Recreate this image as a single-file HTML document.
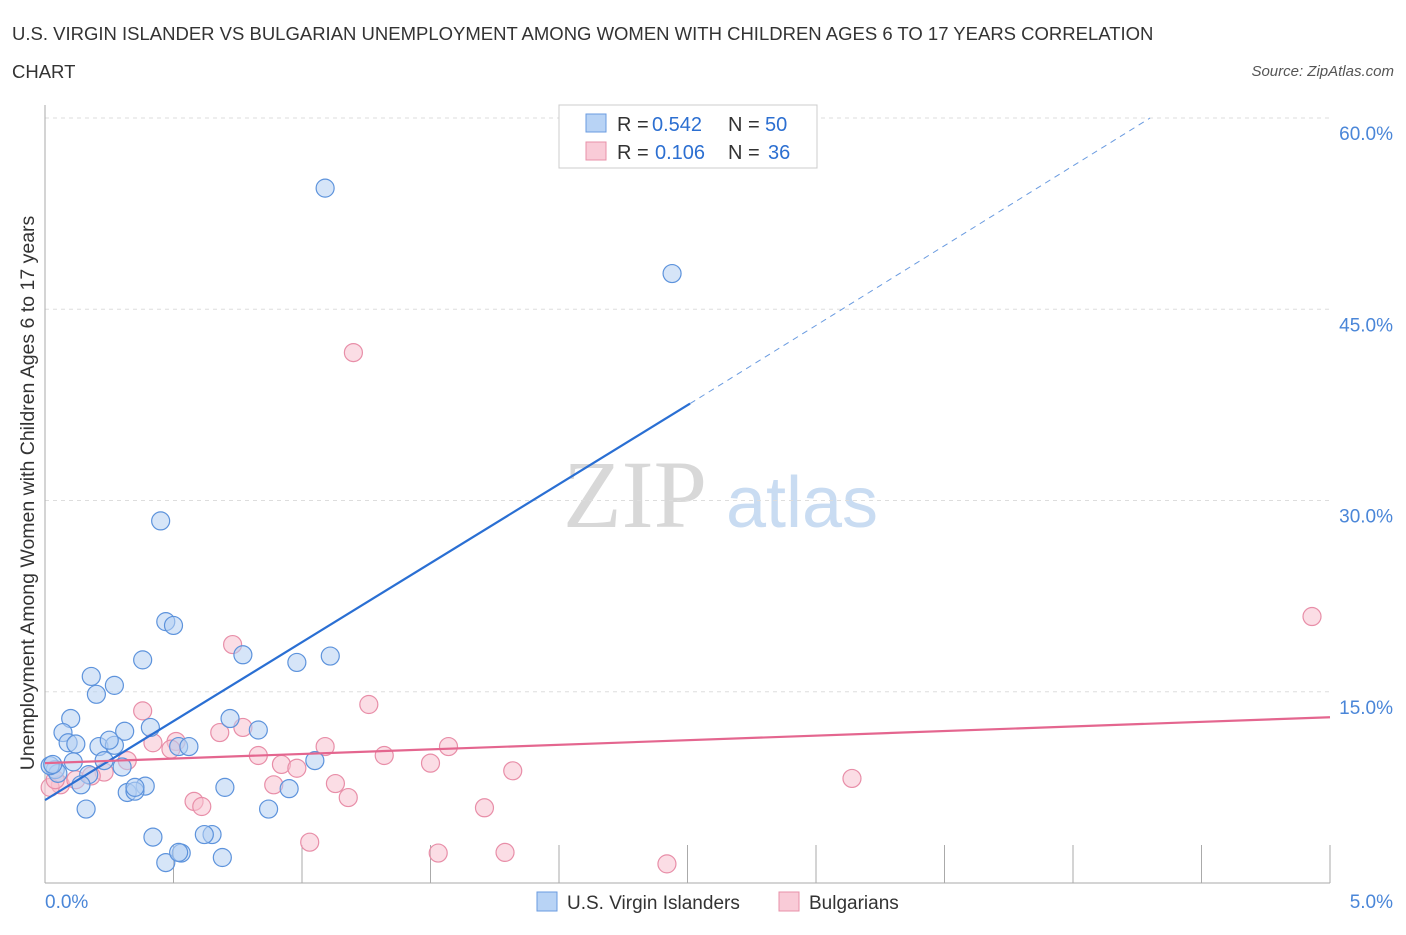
<!DOCTYPE html>
<html><head><meta charset="utf-8"><style>
body{margin:0;background:#fff;font-family:"Liberation Sans",sans-serif}
</style></head><body>
<svg width="1406" height="930" xmlns="http://www.w3.org/2000/svg" style="font-family:'Liberation Sans',sans-serif">
<text x="12" y="40" font-size="18.5" fill="#333">U.S. VIRGIN ISLANDER VS BULGARIAN UNEMPLOYMENT AMONG WOMEN WITH CHILDREN AGES 6 TO 17 YEARS CORRELATION</text>
<text x="12" y="78" font-size="18.5" fill="#333">CHART</text>
<text x="1394" y="76" font-size="15" fill="#555" font-style="italic" text-anchor="end">Source: ZipAtlas.com</text>
<g>
<text x="635" y="527" font-size="96" font-family="'Liberation Serif',serif" fill="#d8d8d8" text-anchor="middle">ZIP</text>
<text x="802" y="527" font-size="72" fill="#c9dcf2" text-anchor="middle">atlas</text>
</g>
<g id="grid"></g>
<g id="axes"></g>
<g id="marks"></g>
<g>
<rect x="559" y="105" width="258" height="63" fill="#fff" stroke="#ccc"/>
<rect x="586" y="114" width="20" height="18" fill="#b8d3f5" stroke="#6a9be0"/>
<text y="131" font-size="20" fill="#333"><tspan x="617">R =</tspan><tspan x="652" fill="#2c6fd1">0.542</tspan><tspan x="728">N =</tspan><tspan x="765" fill="#2c6fd1">50</tspan></text>
<rect x="586" y="142" width="20" height="18" fill="#f9cbd7" stroke="#e890a8"/>
<text y="159" font-size="20" fill="#333"><tspan x="617">R =</tspan><tspan x="655" fill="#2c6fd1">0.106</tspan><tspan x="728">N =</tspan><tspan x="768" fill="#2c6fd1">36</tspan></text>
</g>
<g>
<rect x="537" y="892" width="20" height="19" fill="#b8d3f5" stroke="#6a9be0"/>
<text x="567" y="909" font-size="19" fill="#333">U.S. Virgin Islanders</text>
<rect x="779" y="892" width="20" height="19" fill="#f9cbd7" stroke="#e890a8"/>
<text x="809" y="909" font-size="19" fill="#333">Bulgarians</text>
</g>
<text transform="translate(34,493) rotate(-90)" font-size="19.5" fill="#333" text-anchor="middle">Unemployment Among Women with Children Ages 6 to 17 years</text>
</svg>
<script>
const blueX=[1.09,2.44,0.45,0.47,0.50,0.38,0.77,0.98,1.11,0.18,0.27,0.20,0.10,0.07,0.31,0.41,0.09,0.12,0.21,0.27,0.25,0.52,0.56,0.72,0.83,0.23,0.30,0.11,0.04,0.05,0.02,0.17,0.14,0.39,0.70,0.32,0.35,0.35,0.95,1.05,0.16,0.42,0.65,0.62,0.87,0.53,0.47,0.69,0.52,0.03];
const blueY=[54.5,47.8,28.4,20.5,20.2,17.5,17.9,17.3,17.8,16.2,15.5,14.8,12.9,11.8,11.9,12.2,11.0,10.9,10.7,10.8,11.2,10.7,10.7,12.9,12.0,9.6,9.1,9.5,8.9,8.6,9.2,8.5,7.7,7.6,7.5,7.1,7.2,7.5,7.4,9.6,5.8,3.6,3.8,3.8,5.8,2.35,1.6,2.0,2.4,9.3];
const pinkX=[1.20,4.93,0.73,1.26,0.38,0.68,0.77,0.51,0.42,0.49,0.83,1.32,1.09,1.57,0.92,0.98,0.32,0.23,1.50,1.82,3.14,0.89,1.13,1.18,0.58,0.61,1.71,1.03,1.53,1.79,2.42,0.06,0.02,0.12,0.18,0.04];
const pinkY=[41.6,20.9,18.7,14.0,13.5,11.8,12.2,11.1,11.0,10.5,10.0,10.0,10.7,10.7,9.3,9.0,9.6,8.7,9.4,8.8,8.2,7.7,7.8,6.7,6.4,6.0,5.9,3.2,2.35,2.4,1.5,7.7,7.5,8.1,8.4,8.1];
const blueLine=[[0,6.5],[2.51,37.6],[4.30,60]];
const pinkLine=[[0,9.4],[5,13.0]];
const yTicks=[15,30,45,60];
const yTickLabels=["15.0%","30.0%","45.0%","60.0%"];
const xTicks=[0,0.5,1,1.5,2,2.5,3,3.5,4,4.5,5];
const NS="http://www.w3.org/2000/svg";
const sx=v=>45+v*257, sy=v=>883-v*12.75;
function mk(p,t,a){const e=document.createElementNS(NS,t);for(const k in a)e.setAttribute(k,a[k]);p.appendChild(e);return e;}
const grid=document.getElementById('grid'),axes=document.getElementById('axes'),marks=document.getElementById('marks');
yTicks.forEach((v,i)=>{
 const l=mk(grid,'line',{x1:45,x2:1330,y1:sy(v),y2:sy(v),stroke:'#ddd','stroke-dasharray':'4,4'});
 
 
 const t=mk(grid,'text',{x:1393,y:sy(v)+22,'font-size':19,fill:'#4a86d8','text-anchor':'end'});
 t.textContent=yTickLabels[i];
 
 
});
const ax=mk(axes,'line',{x1:45,x2:45,y1:105,y2:883,stroke:'#aaa'});


const bx=mk(axes,'line',{x1:45,x2:1330,y1:883,y2:883,stroke:'#aaa'});


xTicks.forEach(v=>{
 const t=mk(axes,'line',{x1:sx(v),x2:sx(v),y1:845,y2:883,stroke:'#aaa'});
 
 
});
[[0,'0.0%','start',45],[5,'5.0%','end',1393]].forEach(d=>{
 const t=mk(axes,'text',{x:d[3],y:908,'font-size':19,fill:'#4a86d8','text-anchor':d[2]});
 t.textContent=d[1];
 
 
});
function dots(X,Y,fill,stroke,name){X.forEach((x,i)=>{
 const c=mk(marks,'circle',{cx:sx(x),cy:sy(Y[i]),r:9,fill:fill,'fill-opacity':0.55,stroke:stroke,'stroke-width':1.2});
 
 
});}
dots(pinkX,pinkY,'#f7c1cf','#e88ea8','bulgarian-point');
dots(blueX,blueY,'#b5d0f2','#5d93dc','virgin-islander-point');
const bl=mk(marks,'line',{x1:sx(blueLine[0][0]),y1:sy(blueLine[0][1]),x2:sx(blueLine[1][0]),y2:sy(blueLine[1][1]),stroke:'#2a6fd3','stroke-width':2.2});


const bd=mk(marks,'line',{x1:sx(blueLine[1][0]),y1:sy(blueLine[1][1]),x2:sx(blueLine[2][0]),y2:sy(blueLine[2][1]),stroke:'#6a9be0','stroke-width':1,'stroke-dasharray':'6,5'});


const pl=mk(marks,'line',{x1:sx(pinkLine[0][0]),y1:sy(pinkLine[0][1]),x2:sx(pinkLine[1][0]),y2:sy(pinkLine[1][1]),stroke:'#e4668f','stroke-width':2.2});


</script>
</body></html>
